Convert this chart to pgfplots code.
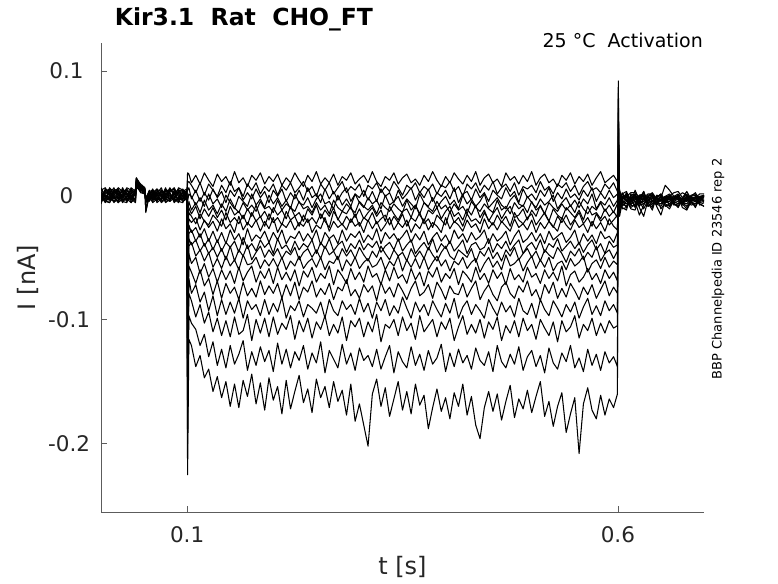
\documentclass[border=0pt]{standalone}
\usepackage{pgfplots}
\pgfplotsset{compat=1.18}
\usepackage{pgfplotstable}
\usepackage{fontspec}
\setmainfont{DejaVu Sans}
\definecolor{axgray}{rgb}{0.15,0.15,0.15}

% current in pA (tick labels are written in nA)
\pgfplotstableread{
t c1 c2 c3 c4 c5 c6 c7 c8 c9 c10 c11 c12 c13 c14 c15 c16 c17 c18
0 3 -5 1 -6 4 0 -3 6 -1 2 -7 1 5 -2 0 -4 2 -1
0.005 -2 3 -5 1 6 -3 4 -1 -6 0 3 -4 -1 5 -3 2 0 -5
0.01 -3 1 -6 4 -1 5 2 -4 0 -3 5 -6 1 3 -4 1 -2 6
0.015 4 -6 2 -3 0 4 -2 3 1 -5 -3 0 6 -1 3 -5 4 1
0.02 5 -2 3 -1 -6 1 -5 0 6 -4 1 3 -3 -6 4 0 2 -3
0.025 -4 0 -2 5 -3 -1 6 -5 3 1 -6 4 -2 2 -1 3 -5 0
0.03 -1 6 -3 1 3 -5 0 -2 -4 2 -1 -3 5 0 -2 4 -6 2
0.035 0 4 -6 -2 3 2 -3 5 -2 -6 1 -1 0 -4 6 -1 3 -3
0.04 2 -1 4 -4 0 3 -6 1 3 -2 5 0 -5 1 3 -3 0 4
0.041 12 9 14 8 10 13 6 11 10 12 8 10 11 9 14 10 7 9
0.046 7 5 8 3 6 9 4 7 6 8 2 6 7 5 8 6 4 5
0.051 4 2 5 1 3 6 2 4 5 3 1 4 2 3 5 1 3 2
0.052 -12 -3 -14 -2 -6 -4 -2 -5 -3 -13 -1 -4 -5 -2 -6 -3 -4 -5
0.056 1 -3 0 3 -2 -5 1 -3 2 0 -2 4 -3 1 0 -1 3 -4
0.06 3 -5 0 4 -3 1 -4 2 -1 5 -2 -1 0 4 -6 2 -3 0
0.065 -2 3 5 -6 1 -3 0 -4 4 -1 2 -5 1 0 -3 5 -4 2
0.07 -4 2 -1 -3 6 -4 1 -2 4 -3 0 4 -6 -1 3 -1 4 -5
0.075 3 -4 -2 1 -3 5 -6 0 -1 4 -5 1 -3 6 0 -4 1 -2
0.08 1 -2 4 0 -5 2 -3 6 -3 1 -4 0 3 -5 2 5 -1 3
0.085 -5 1 3 -3 4 -6 2 -1 2 -3 0 -4 5 -2 -4 1 -3 6
0.09 -2 5 -4 2 1 -2 4 -5 1 -6 3 -3 -1 2 -3 -4 6 -1
0.095 2 -1 -3 5 -4 0 3 -6 0 4 -2 3 -5 1 -1 -3 4 -3
0.0995 0 -3 3 -1 -3 4 -2 1 -4 2 -1 5 -3 0 4 -2 -3 1
0.1005 18 10 4 -5 -15 -25 -35 -45 -60 -72 -85 -98 -115 -135 -155 -175 -200 -225
0.102 17 11 6 1 -5 -10 -14 -19 -24 -31 -35 -41 -47 -57 -67 -79 -97 -116
0.105 10 8 -3 -1 -12 -15 -17 -22 -30 -28 -40 -38 -55 -62 -79 -85 -103 -121
0.11 16 2 4 -8 -6 -9 -23 -18 -26 -37 -36 -49 -50 -71 -72 -98 -108 -138
0.115 9 10 -5 -2 -14 -19 -15 -28 -34 -31 -45 -44 -63 -60 -86 -88 -121 -129
0.12 18 0 2 -9 -4 -11 -21 -20 -27 -41 -39 -53 -55 -73 -78 -103 -112 -147
0.125 12 9 -4 1 -12 -17 -24 -26 -37 -35 -47 -46 -66 -67 -93 -94 -130 -140
0.13 7 4 5 -7 -8 -10 -16 -21 -29 -44 -42 -58 -59 -80 -81 -110 -118 -158
0.135 17 -1 -2 -3 -15 -18 -20 -29 -38 -36 -50 -51 -70 -69 -97 -99 -137 -146
0.14 11 8 3 -10 -7 -12 -25 -19 -30 -45 -43 -59 -60 -83 -84 -113 -124 -163
0.145 15 2 -6 0 -13 -20 -14 -27 -39 -38 -52 -49 -68 -71 -96 -101 -139 -150
0.15 8 11 4 -6 -3 -9 -22 -23 -28 -42 -41 -57 -61 -79 -86 -114 -121 -170
0.155 19 3 -1 -11 -10 -16 -18 -30 -36 -37 -53 -52 -71 -74 -95 -98 -136 -152
0.16 10 6 6 -1 -14 -13 -23 -17 -31 -46 -44 -60 -58 -84 -83 -112 -128 -171
0.165 14 -1 -4 -5 -6 -19 -16 -28 -40 -34 -49 -48 -69 -70 -99 -109 -117 -149
0.17 7 9 2 -9 -12 -11 -24 -22 -27 -43 -40 -56 -62 -81 -85 -96 -141 -162
0.175 16 4 -3 1 -8 -17 -14 -26 -37 -39 -52 -55 -57 -75 -92 -117 -126 -144
0.18 12 10 5 -8 -13 -8 -21 -20 -32 -45 -46 -50 -70 -82 -88 -100 -137 -168
0.185 18 1 -2 -3 -5 -18 -17 -29 -35 -36 -41 -59 -61 -69 -97 -111 -122 -151
0.19 9 7 3 -10 -11 -13 -25 -21 -29 -42 -50 -52 -67 -80 -84 -99 -134 -173
0.195 15 3 -6 0 -9 -20 -15 -27 -38 -38 -44 -57 -59 -73 -96 -114 -125 -147
0.2 11 9 4 -7 -14 -10 -22 -18 -30 -47 -49 -51 -71 -79 -87 -98 -142 -165
0.205 17 0 -1 -2 -4 -16 -18 -30 -36 -35 -43 -58 -58 -71 -94 -112 -119 -154
0.21 8 8 5 -9 -12 -12 -24 -23 -28 -43 -51 -50 -68 -83 -82 -103 -136 -176
0.215 14 4 -5 -4 -7 -19 -13 -26 -39 -40 -45 -60 -62 -72 -99 -108 -124 -149
0.22 10 10 2 -11 -10 -9 -20 -20 -33 -46 -48 -53 -69 -81 -89 -97 -139 -172
0.225 18 2 -3 1 -13 -17 -17 -28 -35 -37 -42 -57 -60 -70 -93 -116 -126 -158
0.23 12 6 4 -6 -5 -14 -25 -22 -29 -44 -52 -49 -73 -84 -85 -101 -133 -145
0.235 7 11 -4 -8 -11 -21 -16 -25 -37 -39 -46 -59 -61 -74 -98 -110 -121 -167
0.24 16 3 6 -2 -9 -11 -22 -19 -31 -42 -43 -54 -66 -78 -88 -99 -140 -156
0.245 11 7 -2 -10 -14 -16 -18 -30 -36 -36 -50 -51 -58 -69 -91 -115 -127 -175
0.25 19 -1 1 -3 -6 -8 -23 -24 -28 -47 -44 -58 -70 -82 -95 -102 -135 -148
0.255 9 9 -6 1 -12 -19 -15 -27 -40 -38 -51 -50 -63 -75 -86 -108 -118 -163
0.26 14 4 5 -7 -8 -12 -21 -18 -30 -43 -41 -60 -67 -80 -99 -97 -143 -154
0.265 10 10 -3 -5 -15 -17 -26 -29 -35 -35 -48 -53 -57 -71 -84 -113 -125 -171
0.27 17 1 3 -11 -4 -10 -13 -21 -32 -45 -45 -55 -72 -84 -93 -104 -132 -150
0.275 8 6 -4 0 -10 -20 -19 -26 -39 -40 -52 -49 -60 -74 -97 -111 -139 -166
0.28 15 11 2 -8 -13 -13 -24 -23 -28 -37 -43 -61 -65 -77 -85 -98 -120 -157
0.285 12 2 6 -3 -7 -15 -17 -28 -37 -46 -49 -52 -71 -68 -92 -117 -136 -177
0.29 18 7 -5 -9 -11 -9 -22 -19 -31 -39 -44 -57 -59 -81 -88 -101 -127 -152
0.295 9 4 1 1 -14 -18 -15 -25 -34 -43 -51 -50 -68 -76 -96 -106 -141 -182
0.3 13 9 -2 -6 -5 -11 -25 -22 -29 -36 -42 -59 -62 -83 -83 -99 -123 -168
0.305 16 -1 4 -10 -9 -19 -18 -30 -38 -44 -48 -54 -70 -72 -94 -114 -133 -185
0.31 10 8 -4 -2 -12 -14 -21 -20 -32 -39 -53 -51 -57 -78 -87 -102 -129 -202
0.315 19 5 3 -7 -8 -10 -14 -27 -36 -42 -45 -58 -66 -73 -99 -110 -138 -160
0.32 11 10 -5 -4 -15 -17 -23 -21 -27 -37 -50 -56 -63 -85 -86 -96 -124 -148
0.325 7 2 5 -11 -6 -12 -19 -29 -39 -46 -41 -50 -72 -70 -93 -118 -140 -170
0.33 15 7 -1 0 -10 -21 -16 -24 -30 -41 -47 -60 -60 -79 -84 -104 -130 -155
0.335 12 3 2 -8 -13 -9 -24 -18 -35 -38 -52 -53 -69 -74 -97 -107 -121 -178
0.34 18 11 -6 -5 -7 -15 -17 -28 -31 -44 -44 -57 -58 -82 -89 -100 -143 -164
0.345 9 6 4 -1 -11 -20 -22 -22 -37 -35 -49 -49 -67 -71 -95 -113 -126 -150
0.35 14 0 -3 -9 -14 -13 -15 -26 -33 -45 -46 -61 -64 -77 -82 -98 -134 -173
0.355 17 8 1 -3 -4 -11 -25 -20 -28 -40 -53 -52 -71 -84 -91 -109 -139 -158
0.36 10 5 6 -7 -12 -18 -18 -30 -38 -36 -43 -58 -59 -75 -99 -103 -122 -176
0.365 13 10 -4 -11 -8 -8 -21 -23 -31 -47 -50 -51 -68 -69 -86 -116 -137 -152
0.37 8 2 3 1 -15 -16 -14 -27 -36 -42 -45 -59 -62 -81 -94 -97 -128 -169
0.375 16 7 -2 -6 -6 -21 -23 -19 -29 -38 -51 -50 -73 -78 -88 -110 -141 -161
0.38 11 4 5 -9 -10 -12 -19 -28 -40 -44 -42 -60 -61 -72 -97 -105 -125 -188
0.385 19 9 -5 -2 -13 -15 -26 -22 -34 -35 -48 -54 -66 -83 -85 -100 -136 -171
0.39 12 1 2 -10 -5 -10 -16 -25 -30 -46 -53 -49 -58 -70 -92 -114 -131 -156
0.395 7 8 -1 -5 -11 -19 -20 -30 -37 -39 -46 -57 -70 -76 -98 -102 -120 -174
0.4 15 6 4 -1 -8 -13 -24 -18 -32 -43 -41 -52 -63 -84 -87 -108 -142 -163
0.405 10 11 -3 -8 -14 -9 -13 -27 -39 -37 -49 -61 -67 -73 -95 -99 -127 -180
0.41 18 3 6 -4 -7 -17 -22 -21 -28 -45 -52 -53 -59 -79 -83 -117 -138 -159
0.415 13 7 -6 -11 -12 -14 -18 -24 -35 -41 -44 -56 -72 -80 -99 -106 -124 -170
0.42 9 -1 1 0 -9 -20 -25 -29 -31 -36 -47 -50 -61 -71 -90 -97 -135 -152
0.425 16 9 3 -7 -15 -11 -15 -20 -38 -47 -50 -59 -65 -82 -85 -112 -129 -177
0.43 11 5 -4 -3 -5 -16 -21 -26 -30 -40 -43 -54 -70 -75 -96 -104 -140 -162
0.435 19 10 5 -9 -10 -8 -19 -23 -36 -38 -54 -51 -58 -69 -88 -111 -123 -185
0.44 8 2 -2 -5 -13 -18 -23 -30 -33 -44 -45 -62 -68 -84 -93 -100 -133 -196
0.445 14 8 2 1 -7 -12 -14 -19 -28 -42 -49 -55 -63 -77 -99 -115 -137 -171
0.45 17 4 -5 -10 -11 -21 -20 -27 -39 -35 -42 -50 -71 -72 -84 -102 -126 -158
0.455 10 11 4 -6 -14 -15 -24 -22 -31 -46 -51 -58 -60 -80 -91 -108 -142 -174
0.46 13 1 0 -2 -4 -10 -16 -28 -37 -39 -46 -53 -67 -85 -97 -98 -121 -160
0.465 7 6 -3 -8 -12 -19 -22 -21 -34 -43 -53 -60 -62 -74 -86 -117 -134 -181
0.47 18 9 6 -11 -9 -13 -17 -25 -29 -37 -44 -48 -72 -70 -94 -105 -139 -166
0.475 12 3 -1 -4 -15 -9 -25 -29 -40 -45 -49 -57 -59 -79 -89 -111 -128 -153
0.48 15 10 3 0 -6 -18 -14 -19 -33 -40 -42 -55 -68 -83 -98 -101 -136 -179
0.485 9 0 -6 -7 -11 -16 -20 -26 -28 -36 -52 -51 -64 -73 -83 -114 -122 -164
0.49 16 7 5 -9 -8 -11 -23 -23 -38 -47 -47 -61 -70 -78 -93 -99 -141 -172
0.495 11 5 -2 -1 -14 -20 -18 -28 -35 -41 -43 -54 -58 -69 -96 -109 -130 -157
0.5 19 8 1 -6 -5 -12 -15 -20 -30 -38 -50 -49 -66 -81 -87 -104 -125 -175
0.505 8 2 -4 -10 -12 -17 -24 -30 -37 -44 -45 -59 -63 -76 -99 -116 -138 -162
0.51 14 11 4 -3 -9 -8 -19 -22 -31 -36 -53 -52 -71 -85 -84 -100 -129 -150
0.515 17 4 -1 -8 -15 -15 -14 -27 -39 -46 -44 -58 -60 -72 -92 -107 -143 -178
0.52 10 7 6 -5 -6 -21 -21 -21 -29 -39 -48 -50 -67 -79 -97 -113 -123 -166
0.525 13 1 -5 0 -10 -11 -26 -25 -36 -42 -51 -61 -62 -70 -85 -102 -135 -186
0.53 7 9 2 -11 -13 -16 -17 -29 -33 -35 -42 -55 -69 -83 -91 -118 -140 -170
0.535 16 6 -3 -6 -7 -19 -22 -18 -30 -45 -47 -53 -57 -75 -98 -101 -127 -159
0.54 12 10 5 -2 -12 -10 -16 -24 -38 -41 -54 -60 -73 -82 -88 -110 -134 -191
0.545 18 3 -2 -9 -8 -14 -24 -28 -34 -37 -45 -51 -64 -71 -94 -106 -121 -176
0.55 9 8 1 -4 -14 -18 -19 -20 -28 -43 -49 -57 -61 -77 -86 -97 -139 -163
0.555 15 0 -4 -10 -5 -12 -14 -26 -40 -38 -43 -54 -70 -84 -99 -115 -131 -208
0.56 11 7 4 -3 -11 -20 -23 -23 -31 -46 -52 -49 -66 -74 -90 -104 -142 -168
0.565 17 11 -1 -7 -15 -9 -18 -30 -37 -40 -46 -62 -59 -80 -83 -109 -124 -155
0.57 8 4 6 1 -9 -16 -25 -21 -32 -36 -50 -55 -68 -72 -96 -99 -137 -173
0.575 14 6 -5 -11 -12 -14 -15 -27 -39 -44 -41 -52 -63 -83 -89 -113 -128 -180
0.58 19 2 2 -5 -6 -19 -21 -22 -29 -39 -53 -59 -71 -76 -97 -103 -141 -161
0.585 10 9 -3 -8 -13 -11 -17 -29 -35 -47 -47 -50 -60 -69 -85 -111 -126 -177
0.59 13 5 4 -2 -8 -17 -24 -19 -33 -37 -44 -58 -67 -81 -93 -101 -135 -164
0.595 16 10 -2 -9 -14 -13 -20 -25 -38 -42 -51 -53 -62 -74 -88 -107 -130 -171
0.5995 11 3 1 -4 -7 -18 -16 -28 -30 -40 -45 -56 -69 -79 -95 -105 -138 -160
0.6005 -4 -2 0 3 6 9 12 15 20 25 30 35 42 50 60 70 82 92
0.602 4 -6 1 -9 -3 0 -7 2 -11 -4 1 -13 -5 -1 -8 -17 -2 -6
0.605 -3 1 -5 -2 -8 -4 1 -9 -2 -7 -3 -1 -10 -4 2 -6 -11 -3
0.61 -1 3 -7 -4 1 -10 -2 -5 0 -9 -3 -1 -12 2 -5 -4 -10 -1
0.615 2 -5 -2 -8 -4 0 -6 -1 -7 -2 -10 -5 1 -8 -3 -11 -4 -7
0.62 2 -4 0 -1 -9 -2 4 -10 -5 1 -7 -3 0 -9 -1 -12 -2 -5
0.625 -2 0 -6 -3 -1 -8 -4 -2 -9 -5 0 -7 -4 -1 -10 -3 -6 -16
0.63 -4 1 -5 3 -1 -7 -3 0 -2 -11 -1 3 -7 -3 -17 -1 -5 -8
0.635 0 -3 -1 -6 -5 -2 -8 -6 1 -4 -6 -9 -2 -6 -4 -9 -1 -2
0.64 1 -7 2 -5 0 -1 -9 -4 1 -2 -12 -5 -1 -10 -2 -7 0 -4
0.645 -3 -1 -3 -2 -6 -4 0 -7 -5 -8 -1 -2 -8 -2 -6 -3 -9 -6
0.65 -2 0 -4 1 -7 -5 -1 -9 -4 0 -2 -11 -3 1 -7 -2 -16 -1
0.655 8 -4 -1 -4 -2 -1 -6 -3 -7 -4 -5 -6 -1 -5 -3 -8 -4 -9
0.66 4 -2 -1 -7 -2 1 -5 -1 -9 -5 0 -2 -9 -3 0 -11 -3 -7
0.665 -1 -6 2 -3 -6 -3 -2 -5 -3 -1 -7 -1 -4 -8 -5 -4 -7 -3
0.67 -1 -5 3 -2 -10 -3 0 -7 -1 -4 -9 1 -2 -7 -3 -1 -9 -2
0.675 2 -2 -2 -6 -3 -6 -4 -2 -6 -7 -2 -5 -7 -2 -8 -6 -3 -10
0.68 0 1 -4 -1 -4 -9 -2 3 -7 -1 -5 -3 -11 0 -2 -5 -1 -12
0.685 -3 -3 0 -3 -1 -4 -6 -3 -3 -6 -1 -8 -4 -6 -4 -2 -6 -5
0.69 -2 -4 1 -5 0 -2 -7 -4 -2 -9 2 -7 -1 -5 -10 -2 -7 -3
0.695 1 -2 -3 -2 -6 -1 -3 -7 -5 -3 -4 -2 -8 -3 -2 -7 -5 -1
0.7 1 -1 -2 0 -5 -1 -4 -9 0 -2 -4 -1 -6 -2 -1 -9 -4 0
}\traces

\begin{document}
\begin{tikzpicture}
\useasboundingbox (0,0) rectangle (778pt,583pt);
\begin{axis}[
  at={(101pt,71pt)}, anchor=south west,
  scale only axis, width=603pt, height=469pt,
  xmin=0, xmax=0.7, ymin=-255, ymax=122.5,
  axis x line*=bottom, axis y line*=left,
  axis line style={-, draw=axgray!75, line width=0.6pt},
  xtick={0.1,0.6}, xticklabels={0.1,0.6},
  ytick={-200,-100,0,100},
  yticklabels={{\hspace{5.4pt}-0.2},{\hspace{5.4pt}-0.1},{0\hspace{8pt}},0.1},
  tick align=inside, major tick length=6pt,
  tick style={draw=axgray!75, line width=0.6pt},
  ticklabel style={font=\fontsize{21.5}{24}\selectfont, text=axgray},
  xticklabel style={anchor=base, yshift=-30pt},
  yticklabel style={anchor=center, xshift=-34.5pt},
  xlabel={t [s]}, ylabel={I [nA]},
  every axis x label/.style={at={(axis description cs:0.5,-0.1343)}, anchor=base, font=\fontsize{24}{28}\selectfont, text=axgray},
  every axis y label/.style={at={(axis description cs:-0.1086,0.5)}, anchor=base, rotate=90, font=\fontsize{24}{28}\selectfont, text=axgray},
  title={Kir3.1\ \ Rat\ \ CHO\_FT},
  every axis title/.style={at={(axis description cs:0.237,1.03625)}, anchor=base, font=\bfseries\fontsize{23.5}{28}\selectfont},
]
\pgfplotsinvokeforeach{1,...,18}{
  \addplot[black, line width=1.05pt, line join=round] table[x=t, y=c#1] {\traces};
}
\end{axis}
\node[anchor=base east, inner sep=0pt, font=\fontsize{19}{22}\selectfont] at (703pt,535.7pt) {25 °C\ \ Activation};
\node[rotate=90, anchor=base, inner sep=0pt, font=\fontsize{13}{15}\selectfont] at (721.7pt,314pt) {BBP Channelpedia ID 23546 rep 2};
\end{tikzpicture}
\end{document}
